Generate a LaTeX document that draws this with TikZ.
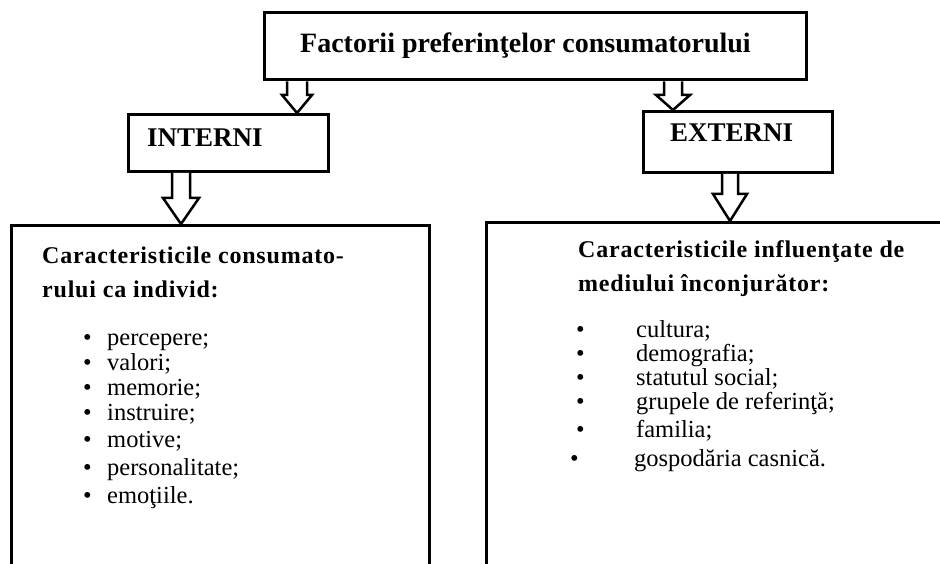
\documentclass[tikz,border=0pt]{standalone}
\usepackage{fontspec}
\setmainfont{Liberation Serif}
\newfontfamily\spacedserif[LetterSpace=3.3]{Liberation Serif}
\begin{document}
\begin{tikzpicture}[x=1pt,y=-1pt,
  box/.style={draw, line width=3pt, inner sep=0pt},
  barrow/.style={draw, line width=2.5pt, fill=white, line join=miter},
  toptitle/.style={font=\bfseries\fontsize{28}{28}\selectfont, inner sep=0pt, anchor=base west},
  branch/.style={font=\bfseries\fontsize{27}{27}\selectfont, inner sep=0pt, anchor=base west},
  heading/.style={font=\spacedserif\bfseries\fontsize{24}{24}\selectfont, inner sep=0pt, anchor=base west},
  item/.style={font=\fontsize{24.5}{24.5}\selectfont, inner sep=0pt, anchor=base west}
]
\clip (0,0) rectangle (940,564);
\fill[white] (0,0) rectangle (940,564);

% boxes
\node[box, minimum width=542pt, minimum height=67pt] (top) at (535,46.5) {};
\node[box, minimum width=200pt, minimum height=57pt, anchor=north west] (intbox) at (127,113) {};
\node[box, minimum width=189pt, minimum height=61pt, anchor=north west] (extbox) at (642,110) {};
\node[box, minimum width=418pt, minimum height=400pt, anchor=north west] (leftbox) at (10,224) {};
\node[box, minimum width=480pt, minimum height=400pt, anchor=north west] (rightbox) at (485,221) {};

\node[toptitle] (toptxt) at (300,53) {Factorii preferinţelor consumatorului};
\node[branch] (inttxt) at (147,147) {INTERNI};
\node[branch] (exttxt) at (670,142) {EXTERNI};

% block arrows
\draw[barrow] (top.south -| 287,0) -- (287,95) -- (282,95) -- (intbox.north -| 297,0) -- (312,95) -- (307,95) -- (top.south -| 307,0);
\draw[barrow] (top.south -| 664,0) -- (664,95) -- (656,95) -- (extbox.north -| 673,0) -- (690,95) -- (682,95) -- (top.south -| 682,0);
\draw[barrow] (intbox.south -| 172,0) -- (172,198) -- (163,198) -- (leftbox.north -| 181,0) -- (199,198) -- (190,198) -- (intbox.south -| 190,0);
\draw[barrow] (extbox.south -| 722,0) -- (722,194) -- (713,194) -- (rightbox.north -| 730,0) -- (747,194) -- (738,194) -- (extbox.south -| 738,0);

% left box content
\node[heading] (lh1) at (42,263) {Caracteristicile consumato-};
\node[heading] (lh2) at (42,297) {rului ca individ:};
\foreach \t/\y [count=\i] in {percepere;/345, valori;/370, memorie;/395, instruire;/420, motive;/447, personalitate;/475, emoţiile./503}{
  \node[item] (lb\i) at (83,\y) {•};
  \node[item] (li\i) at (107,\y) {\t};
}

% right box content
\node[heading] (rh1) at (578,258) {Caracteristicile influenţate de};
\node[heading] (rh2) at (578,291) {mediului înconjurător:};
\foreach \t/\y/\bx/\tx [count=\i] in {cultura;/337/576/636, demografia;/361/576/636, statutul social;/385/576/636, grupele de referinţă;/409/576/636, familia;/437/576/636, gospodăria casnică./466/570/634}{
  \node[item] (rb\i) at (\bx,\y) {•};
  \node[item] (ri\i) at (\tx,\y) {\t};
}
\end{tikzpicture}
\end{document}
